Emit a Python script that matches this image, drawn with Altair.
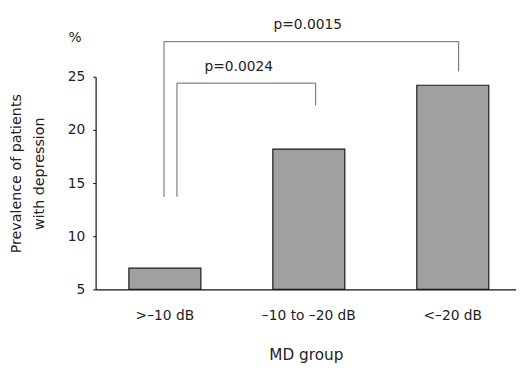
import altair as alt
import pandas as pd

# --- data ---
groups = [">–10 dB", "–10 to –20 dB", "<–20 dB"]
prevalence = [7.0, 18.2, 24.2]

# bracket segments (x in group-index units, y in %)
seg_x = [0.08, 0.08, 1.045, -0.01, -0.01, 2.04]
seg_x2 = [0.08, 1.045, 1.045, -0.01, 2.04, 2.04]
seg_y = [13.7, 24.4, 24.4, 13.7, 28.3, 28.3]
seg_y2 = [24.4, 24.4, 22.3, 28.3, 28.3, 25.5]

p_labels = ["p=0.0024", "p=0.0015"]
p_x = [0.51, 0.99]
p_y = [25.9, 29.9]

unit_label = ["%"]
unit_x = [-0.63]
unit_y = [28.6]

FONT = "DejaVu Sans"

bars_df = pd.DataFrame({"group": groups, "value": prevalence})
seg_df = pd.DataFrame({"x": seg_x, "x2": seg_x2, "y": seg_y, "y2": seg_y2})
lab_df = pd.DataFrame({"label": p_labels + unit_label, "x": p_x + unit_x, "y": p_y + unit_y})

yscale = alt.Scale(domain=[5, 25], zero=False, nice=False)
qx = alt.Scale(domain=[-0.486, 2.439], nice=False, zero=False)

bars = alt.Chart(bars_df).mark_bar(
    color="#a0a0a0", stroke="#1a1a1a", strokeWidth=1.2
).encode(
    x=alt.X("group:N", sort=groups,
            scale=alt.Scale(paddingInner=0.5, paddingOuter=0.21, align=0.55),
            axis=alt.Axis(title="MD group", labelAngle=0, ticks=False, tickSize=0,
                          labelPadding=20, labelFontSize=14, labelFont=FONT,
                          labelColor="#222", domainColor="#111", domainWidth=1.2,
                          titleFont=FONT, titleFontSize=15.5, titleFontWeight="normal",
                          titleColor="#222", titleY=66, titleBaseline="middle")),
    y=alt.Y("value:Q", scale=yscale,
            axis=alt.Axis(values=[5, 10, 15, 20, 25], tickSize=3, tickColor="#111",
                          domainColor="#111", domainWidth=1.2, grid=False,
                          labelFont=FONT, labelFontSize=14, labelColor="#222",
                          labelPadding=8,
                          title=["Prevalence of patients", "with depression"],
                          titleFont=FONT, titleFontSize=14.5, titleFontWeight="normal",
                          titleColor="#222", titleLineHeight=23,
                          titleX=-80, titleY=98, titleBaseline="middle")),
    y2=alt.datum(5),
)

rules = alt.Chart(seg_df).mark_rule(color="#666", strokeWidth=1).encode(
    x=alt.X("x:Q", scale=qx, axis=None),
    x2="x2:Q",
    y=alt.Y("y:Q", scale=yscale, axis=None),
    y2="y2:Q",
)

texts = alt.Chart(lab_df).mark_text(font=FONT, fontSize=14, color="#222").encode(
    x=alt.X("x:Q", scale=qx, axis=None),
    y=alt.Y("y:Q", scale=yscale, axis=None),
    text="label:N",
)

chart = alt.layer(bars, rules, texts).resolve_scale(x="independent").resolve_axis(
    y="independent"
).properties(
    width=427, height=216,
    padding={"left": 89, "top": 67, "right": 0, "bottom": 77},
    autosize=alt.AutoSizeParams(type="none"),
    background="white",
).configure_view(stroke=None)

chart.save("out.html", embed_options={"renderer": "svg", "actions": False})
